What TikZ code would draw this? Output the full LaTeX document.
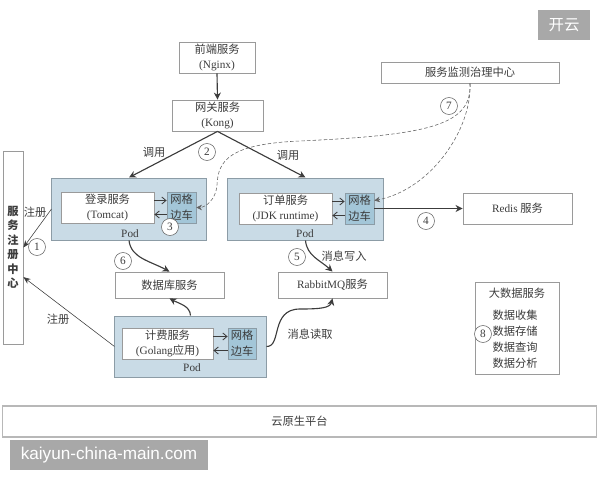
\documentclass[tikz,border=0pt]{standalone}
\usepackage{fontspec}
\setmainfont{Liberation Serif}
\newfontfamily\cjk{Noto Sans CJK SC}
\newfontfamily\wmfont{Liberation Sans}
\usetikzlibrary{arrows.meta}
\definecolor{ink}{HTML}{3C3C3C}
\definecolor{edge}{HTML}{9A9A9A}
\definecolor{podblue}{HTML}{C9DBE6}
\definecolor{podedge}{HTML}{8C9CA6}
\definecolor{meshblue}{HTML}{A3C6D8}
\definecolor{wmgrey}{HTML}{A8A8A8}
\tikzset{
  txt/.style={font=\fontsize{8}{11.3}\selectfont, text=ink, align=center, inner sep=0pt},
  zh/.style={font=\cjk\fontsize{8}{11.3}\selectfont},
  svc/.style={draw=edge, fill=white, line width=0.6pt, txt, minimum width=2.725cm, minimum height=0.775cm},
  pod/.style={draw=podedge, fill=podblue, line width=0.7pt, minimum height=1.55cm},
  mesh/.style={draw=podedge, fill=meshblue, line width=0.5pt, txt, zh, minimum width=0.725cm, minimum height=0.775cm},
  num/.style={circle, draw=ink!80, fill=white, line width=0.4pt, txt, minimum size=0.425cm},
  call/.style={draw=ink, line width=0.8pt, -{Stealth[length=5pt,width=5pt]}},
  thin call/.style={draw=ink, line width=0.4pt, -{Stealth[length=5pt,width=4pt]}},
  hop/.style={draw=ink, line width=0.6pt, -{Straight Barb[length=3pt,width=5pt]}},
  watch/.style={draw=ink!80, line width=0.4pt, dashed, dash pattern=on 2.5pt off 1.5pt, -{Stealth[length=4pt,width=4pt]}},
  mark box/.style={fill=wmgrey, text=white, inner sep=0pt},
}
\begin{document}
\begin{tikzpicture}[x=0.025cm, y=-0.025cm]
  \useasboundingbox (0,0) rectangle (600,480);

  \node[svc, minimum width=1.9cm] (frontend) at (217,57.5) {{\cjk 前端服务}\\(Nginx)};
  \node[svc, minimum width=2.275cm] (gateway) at (217.5,115.5) {{\cjk 网关服务}\\(Kong)};
  \node[svc, minimum width=0.5cm, minimum height=4.825cm, font=\cjk\bfseries\fontsize{8}{10.3}\selectfont] (registry) at (13,247.5) {服\\务\\注\\册\\中\\心};
  \node[svc, minimum width=4.45cm, minimum height=0.525cm] (monitor) at (470,72.5) {\cjk 服务监测治理中心};

  \node[pod, minimum width=3.85cm] (pod1) at (129,209) {};
  \node[svc, minimum width=2.325cm] (login) at (107.5,207.5) {{\cjk 登录服务}\\(Tomcat)};
  \node[mesh] (mesh1) at (181.5,207.5) {网格\\边车};
  \node[txt] (pod1 label) at (130,234) {Pod};

  \node[pod, minimum width=3.875cm] (pod2) at (305.5,209) {};
  \node[svc, minimum width=2.325cm] (order) at (285.5,208.5) {{\cjk 订单服务}\\(JDK runtime)};
  \node[mesh] (mesh2) at (359.5,208.5) {网格\\边车};
  \node[txt] (pod2 label) at (305,234) {Pod};

  \node[svc] (redis) at (517.5,208.5) {Redis {\cjk 服务}};
  \node[svc, minimum height=0.65cm] (database) at (169.5,285) {\cjk 数据库服务};
  \node[svc, minimum height=0.65cm] (rabbit) at (332.5,285) {RabbitMQ{\cjk 服务}};

  \node[pod, minimum width=3.775cm, minimum height=1.525cm] (pod3) at (190.5,346.5) {};
  \node[svc, minimum width=2.275cm] (billing) at (167.5,343.5) {{\cjk 计费服务}\\(Golang{\cjk 应用})};
  \node[mesh, minimum width=0.7cm] (mesh3) at (242,343.5) {网格\\边车};
  \node[txt] (pod3 label) at (192,368) {Pod};

  \node[svc, minimum width=2.1cm, minimum height=2.3cm] (bigdata) at (517,328) {};
  \node[txt] (bigdata title) at (517,293) {\cjk 大数据服务};
  \node[txt, zh] (bigdata list) at (515,339) {数据收集\\数据存储\\数据查询\\数据分析};

  \node[svc, minimum width=14.825cm, draw=edge!70, line width=0.8pt] (platform) at (299.5,421.5) {\cjk 云原生平台};

  \draw[call] (frontend.south) -- (gateway.north);
  \draw[call] (gateway.south) -- (pod1.north);
  \draw[call] (gateway.south) -- (pod2.north);
  \draw[call] (mesh2.east) -- (redis.west);
  \draw[thin call] (pod1.west) -- (registry.east);
  \draw[thin call] (pod3.west) -- ([yshift=-0.74cm]registry.east);

  \draw[hop] ([yshift=0.175cm]login.east) -- ([yshift=0.175cm]mesh1.west);
  \draw[hop] ([yshift=-0.175cm]mesh1.west) -- ([yshift=-0.175cm]login.east);
  \draw[hop] ([yshift=0.175cm]order.east) -- ([yshift=0.175cm]mesh2.west);
  \draw[hop] ([yshift=-0.175cm]mesh2.west) -- ([yshift=-0.175cm]order.east);
  \draw[hop] ([yshift=0.175cm]billing.east) -- ([yshift=0.175cm]mesh3.west);
  \draw[hop] ([yshift=-0.175cm]mesh3.west) -- ([yshift=-0.175cm]billing.east);

  \draw[call] (pod1.south) .. controls (131,258) and (150,261) .. (database.north);
  \draw[call] (pod3.north) .. controls (190,306) and (180,304) .. (database.south);
  \draw[call] (pod2.south) .. controls (307,256) and (320,260) .. (rabbit.north);
  \coordinate (read bend) at (300,309);
  \draw[call] (pod3.east) .. controls (282,347) and (270,309) .. (read bend) .. controls (320,309) and (330,308) .. (rabbit.south);

  \coordinate (watch bend a) at (300,141);
  \coordinate (watch bend b) at (217,185);
  \draw[watch] (monitor.south) .. controls (472,125) and (430,135) .. (watch bend a) .. controls (230,144) and (218,160) .. (watch bend b) .. controls (216,200) and (205,207.5) .. (mesh1.east);
  \draw[watch] (monitor.south) .. controls (472,130) and (430,190) .. ([yshift=0.2cm]mesh2.east);

  \node[txt] (call left) at (154,152) {\cjk 调用};
  \node[txt] (call right) at (288,155) {\cjk 调用};
  \node[txt] (reg top) at (35,212) {\cjk 注册};
  \node[txt] (reg bottom) at (58,319) {\cjk 注册};
  \node[txt] (msg write) at (344,256) {\cjk 消息写入};
  \node[txt] (msg read) at (310,334) {\cjk 消息读取};

  \node[num] (n1) at (37,247) {1};
  \node[num] (n2) at (207,152) {2};
  \node[num] (n3) at (170,227) {3};
  \node[num] (n4) at (426,221) {4};
  \node[num] (n5) at (297,257) {5};
  \node[num] (n6) at (123,261) {6};
  \node[num] (n7) at (449,106) {7};
  \node[num] (n8) at (483,334) {8};

  \node[mark box, minimum width=1.3cm, minimum height=0.75cm, font=\cjk\fontsize{11}{11}\selectfont] (mark cn) at (564,25) {开云};
  \node[mark box, minimum width=4.95cm, minimum height=0.75cm, font=\wmfont\fontsize{12.2}{13}\selectfont] (mark url) at (109,455) {kaiyun-china-main.com};
\end{tikzpicture}
\end{document}
